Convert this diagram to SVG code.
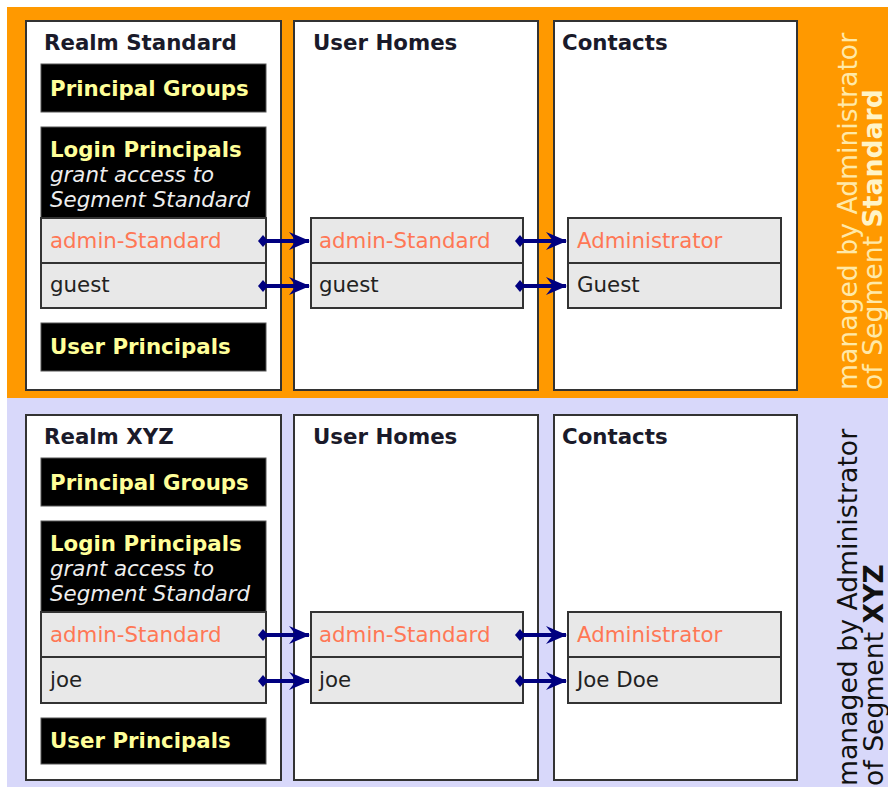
<svg xmlns="http://www.w3.org/2000/svg" width="888" height="787" viewBox="0 0 888 787">
<defs>
<style>
.t{font-family:"DejaVu Sans","Verdana",sans-serif;font-size:21.33px}
.h{font-weight:bold;fill:#1a1a2a}
.panel{fill:#fff;stroke:#333;stroke-width:2}
.blk{fill:#000;stroke:#555;stroke-width:1}
.yl{font-weight:bold;fill:#ffff99}
.it{font-style:italic;fill:#eeeeee}
.row{fill:#e8e8e8;stroke:#333;stroke-width:2}
.red{fill:#ff7755}
.dk{fill:#222}
.vt{font-family:"DejaVu Sans","Verdana",sans-serif;font-size:26.67px}
.conn{stroke:#000080;stroke-width:4;fill:none;marker-start:url(#dot);marker-end:url(#arr)}
</style>
<marker id="arr" markerUnits="userSpaceOnUse" markerWidth="40" markerHeight="40" refX="0" refY="0" orient="auto" overflow="visible">
<path d="M1,0 L-20,-9 L-13,0 L-20,9 Z" fill="#000080"/>
</marker>
<marker id="dot" markerUnits="userSpaceOnUse" markerWidth="40" markerHeight="40" refX="0" refY="0" orient="auto" overflow="visible">
<path d="M-4,0 L1,-6 L6,0 L1,6 Z" fill="#000080"/>
</marker>
</defs>
<rect x="7" y="7" width="881" height="391" fill="#ff9900"/>
<rect x="7" y="398" width="881" height="389" fill="#d8d8fa"/>

<g id="realm-standard">
<rect class="panel" x="26" y="21" width="255" height="369"/>
<text class="t h" x="44" y="50">Realm Standard</text>
<rect class="blk" x="41" y="64" width="225" height="48"/>
<text class="t yl" x="50" y="96">Principal Groups</text>
<rect class="blk" x="41" y="127" width="225" height="91"/>
<text class="t yl" x="50" y="157">Login Principals</text>
<text class="t it" x="50" y="182">grant access to</text>
<text class="t it" x="50" y="207">Segment Standard</text>
<rect class="row" x="41" y="218" width="225" height="45"/>
<rect class="row" x="41" y="263" width="225" height="45"/>
<text class="t red" x="50" y="248">admin-Standard</text>
<text class="t dk" x="50" y="292">guest</text>
<rect class="blk" x="41" y="323" width="225" height="48"/>
<text class="t yl" x="50" y="354">User Principals</text>
</g>

<g id="homes-standard">
<rect class="panel" x="294" y="21" width="244" height="369"/>
<text class="t h" x="313" y="50">User Homes</text>
<rect class="row" x="311" y="218" width="212" height="45"/>
<rect class="row" x="311" y="263" width="212" height="45"/>
<text class="t red" x="319" y="248">admin-Standard</text>
<text class="t dk" x="319" y="292">guest</text>
</g>

<g id="contacts-standard">
<rect class="panel" x="554" y="21" width="243" height="369"/>
<text class="t h" x="562" y="50">Contacts</text>
<rect class="row" x="568" y="218" width="213" height="45"/>
<rect class="row" x="568" y="263" width="213" height="45"/>
<text class="t red" x="577" y="248">Administrator</text>
<text class="t dk" x="577" y="292">Guest</text>
</g>

<g id="label-standard">
<text class="vt" fill="#ffe9a8" transform="translate(857,390) rotate(-90)">managed by Administrator</text>
<text class="vt" fill="#ffe9a8" transform="translate(882,390) rotate(-90)">of Segment <tspan font-weight="bold" fill="#fff4c8">Standard</tspan></text>
</g>

<g id="realm-xyz">
<rect class="panel" x="26" y="415" width="255" height="365"/>
<text class="t h" x="44" y="444">Realm XYZ</text>
<rect class="blk" x="41" y="458" width="225" height="48"/>
<text class="t yl" x="50" y="490">Principal Groups</text>
<rect class="blk" x="41" y="521" width="225" height="91"/>
<text class="t yl" x="50" y="551">Login Principals</text>
<text class="t it" x="50" y="576">grant access to</text>
<text class="t it" x="50" y="601">Segment Standard</text>
<rect class="row" x="41" y="612" width="225" height="45"/>
<rect class="row" x="41" y="657" width="225" height="46"/>
<text class="t red" x="50" y="642">admin-Standard</text>
<text class="t dk" x="50" y="687">joe</text>
<rect class="blk" x="41" y="718" width="225" height="46"/>
<text class="t yl" x="50" y="748">User Principals</text>
</g>

<g id="homes-xyz">
<rect class="panel" x="294" y="415" width="244" height="365"/>
<text class="t h" x="313" y="444">User Homes</text>
<rect class="row" x="311" y="612" width="212" height="45"/>
<rect class="row" x="311" y="657" width="212" height="46"/>
<text class="t red" x="319" y="642">admin-Standard</text>
<text class="t dk" x="319" y="687">joe</text>
</g>

<g id="contacts-xyz">
<rect class="panel" x="554" y="415" width="243" height="365"/>
<text class="t h" x="562" y="444">Contacts</text>
<rect class="row" x="568" y="612" width="213" height="45"/>
<rect class="row" x="568" y="657" width="213" height="46"/>
<text class="t red" x="577" y="642">Administrator</text>
<text class="t dk" x="577" y="687">Joe Doe</text>
</g>

<g id="label-xyz">
<text class="vt" fill="#111" transform="translate(857,786) rotate(-90)">managed by Administrator</text>
<text class="vt" fill="#111" transform="translate(883,786) rotate(-90)">of Segment <tspan font-weight="bold">XYZ</tspan></text>
</g>

<g id="connectors">
<line class="conn" x1="262" y1="241" x2="309" y2="241"/>
<line class="conn" x1="262" y1="286" x2="309" y2="286"/>
<line class="conn" x1="519" y1="241" x2="566" y2="241"/>
<line class="conn" x1="519" y1="286" x2="566" y2="286"/>
<line class="conn" x1="262" y1="635" x2="309" y2="635"/>
<line class="conn" x1="262" y1="681" x2="309" y2="681"/>
<line class="conn" x1="519" y1="635" x2="566" y2="635"/>
<line class="conn" x1="519" y1="681" x2="566" y2="681"/>
</g>
</svg>
